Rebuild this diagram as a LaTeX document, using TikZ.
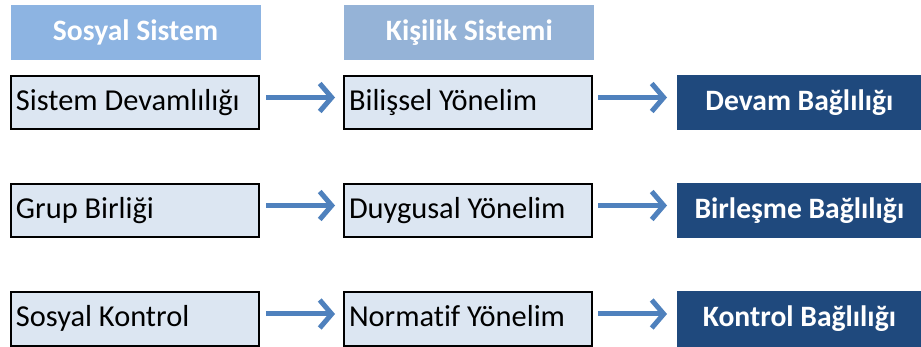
\documentclass[tikz,border=0pt]{standalone}
\usepackage{fontspec}
\setmainfont{Carlito}[Ligatures=NoCommon]
\usepackage{xcolor}
\definecolor{HeadBlue}{HTML}{8DB4E2}
\definecolor{HeadGray}{HTML}{95B3D7}
\definecolor{BoxFill}{HTML}{DCE6F2}
\definecolor{DarkNavy}{HTML}{1F497D}
\definecolor{ArrowBlue}{HTML}{4F81BD}
\usetikzlibrary{arrows.meta,positioning}

\begin{document}
\begin{tikzpicture}[
    x=0.5pt,y=-0.5pt,
    font=\fontsize{15.2}{17}\selectfont,
    node distance=41.5pt,
    hdr/.style={fill=#1,text=white,font=\fontsize{14.8}{17}\selectfont\bfseries,minimum width=125pt,minimum height=27.5pt,inner sep=0pt,text height=11pt,text depth=3pt},
    box/.style={draw=black,line width=1pt,fill=BoxFill,text width=119pt,align=flush left,inner xsep=2.5pt,inner ysep=0pt,minimum height=26.5pt,text height=11pt,text depth=3pt},
    bond/.style={fill=DarkNavy,text=white,font=\fontsize{14.8}{17}\selectfont\bfseries,minimum width=122pt,minimum height=27.5pt,inner sep=0pt,text height=11pt,text depth=3pt},
    arr/.style={-{Straight Barb[length=6pt,width=14pt]},line width=2.5pt,ArrowBlue},
  ]
    \useasboundingbox (0,0) rectangle (921,347);
    % headers
    \node[hdr=HeadBlue] (sosyal) at (135.5,32.5) {Sosyal Sistem};
    \node[hdr=HeadGray,right=of sosyal] (kisilik) {Kişilik Sistemi};
    % rows
    \node[box] (sd) at (135,102.5) {Sistem Devamlılığı};
    \node[box,right=of sd] (by) {Bilişsel Yönelim};
    \node[bond,right=42pt of by] (devam) {Devam Bağlılığı};
    \node[box] (gb) at (135,210.5) {Grup Birliği};
    \node[box,right=of gb] (dy) {Duygusal Yönelim};
    \node[bond,right=42pt of dy] (birlesme) {Birleşme Bağlılığı};
    \node[box] (sk) at (135,319) {Sosyal Kontrol};
    \node[box,right=of sk] (ny) {Normatif Yönelim};
    \node[bond,right=42pt of ny] (kontrol) {Kontrol Bağlılığı};
    % arrows
    \foreach \a/\b/\c in {sd/by/devam,gb/dy/birlesme,sk/ny/kontrol}{
      \draw[arr,shorten <=3pt,shorten >=4pt] ([yshift=2.5pt]\a.east) -- ([yshift=2.5pt]\b.west);
      \draw[arr,shorten <=2.5pt,shorten >=5pt] ([yshift=2.5pt]\b.east) -- ([yshift=2.5pt]\c.west);
    }
\end{tikzpicture}
\end{document}
